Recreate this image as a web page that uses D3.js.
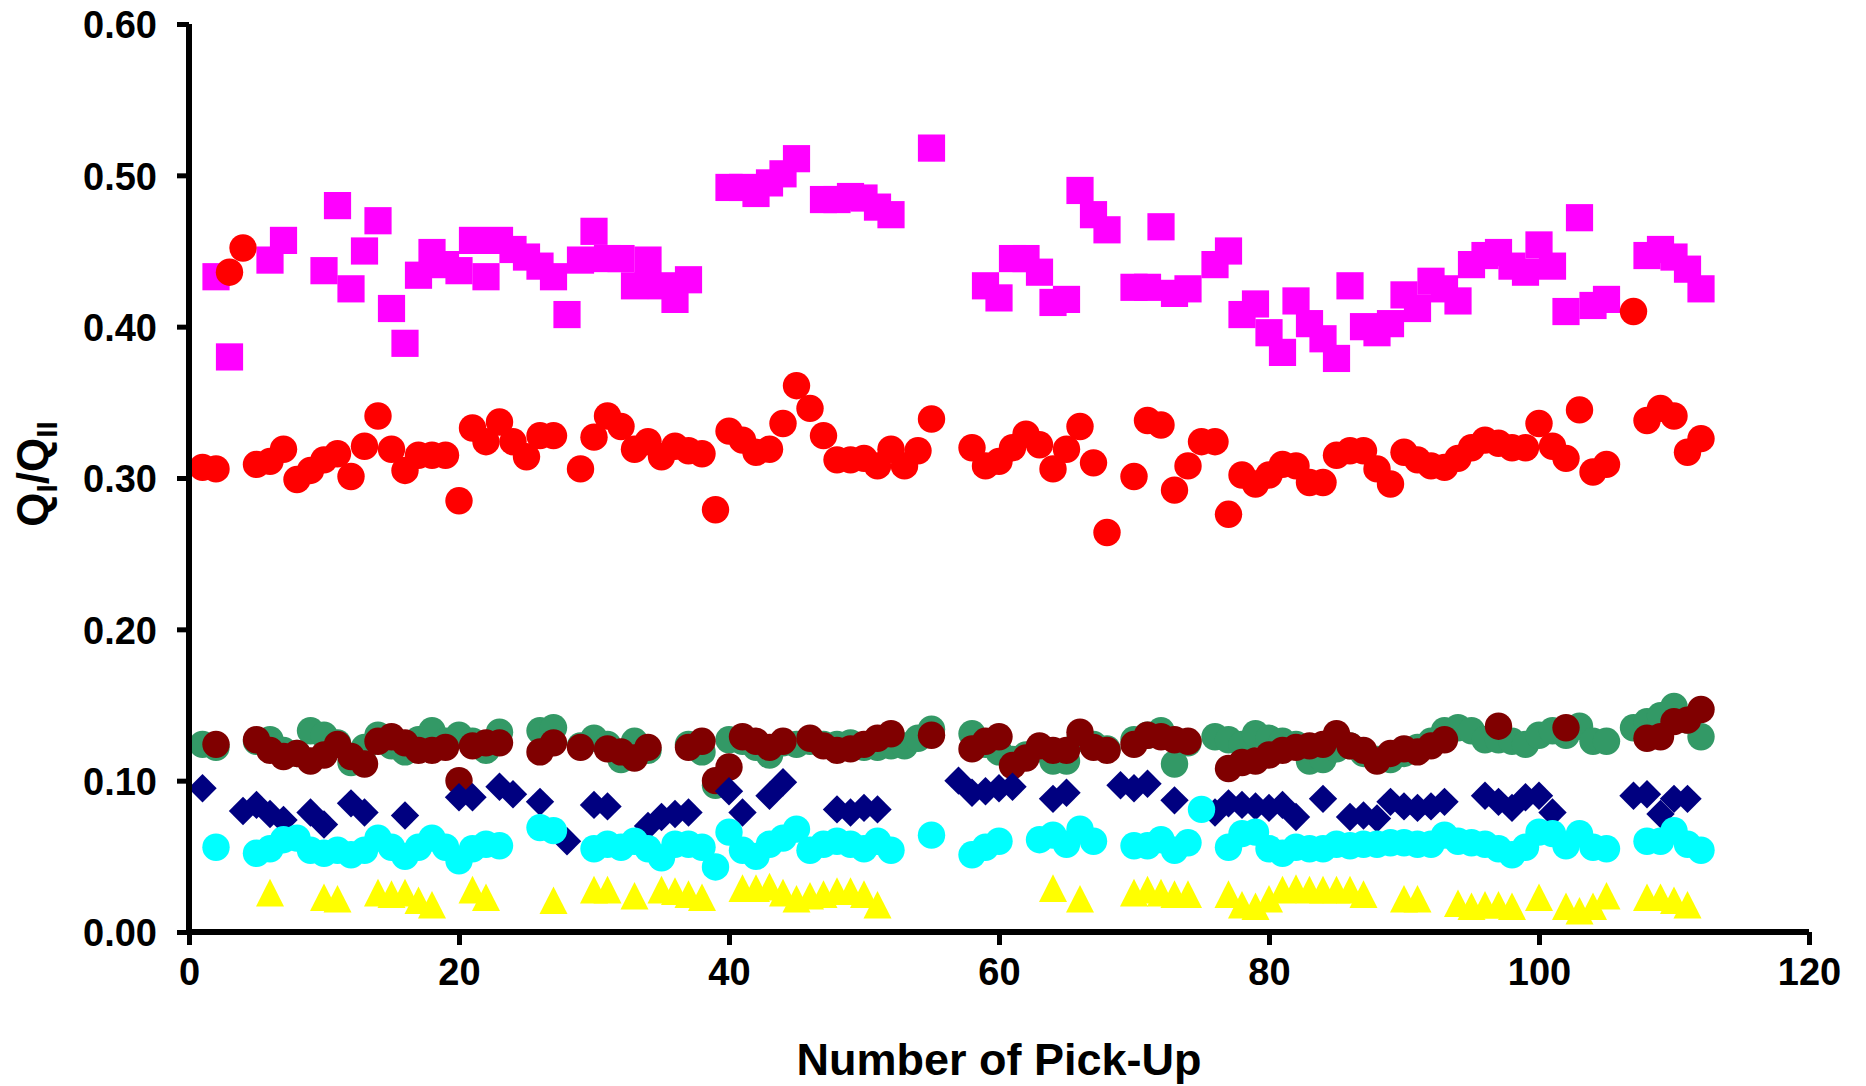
<!DOCTYPE html>
<html><head><meta charset="utf-8">
<script src="https://cdn.jsdelivr.net/npm/d3@7"></script>
<style>html,body{margin:0;padding:0;background:#fff;} svg{display:block;font-family:"Liberation Sans",Arial,sans-serif;}</style>
</head><body>
<svg id="chart" width="1866" height="1086"></svg>
<script>
// Pick-up numbers 1..112
const pickUp = d3.range(1, 113);

const magenta = [
 null,0.433,0.380,null,null,0.444,0.457,null,null,0.437,
 0.480,0.425,0.450,0.470,0.412,0.389,0.434,0.449,0.441,0.437,
 0.457,0.433,0.457,0.451,0.446,0.440,0.433,0.408,0.444,0.463,
 0.445,0.445,0.427,0.444,0.427,0.418,0.431,null,null,0.492,
 0.492,0.488,0.495,0.501,0.511,null,0.484,0.484,0.486,0.485,
 0.479,0.474,null,null,0.518,null,null,null,0.427,0.419,
 0.445,0.445,0.436,0.416,0.418,0.490,0.474,0.464,null,0.426,
 0.426,0.466,0.422,0.425,null,0.441,0.450,0.408,0.415,0.396,
 0.383,0.417,0.402,0.392,0.379,0.427,0.400,0.396,0.402,0.421,
 0.412,0.430,0.425,0.417,0.441,0.447,0.449,0.440,0.436,0.454,
 0.440,0.410,0.472,0.414,0.418,null,null,0.447,0.451,0.446,
 0.438,0.425];

const red = [
 0.307,0.306,0.436,0.452,0.309,0.311,0.319,0.299,0.305,0.312,
 0.316,0.301,0.321,0.341,0.319,0.305,0.315,0.315,0.315,0.285,
 0.333,0.324,0.337,0.324,0.314,0.328,0.328,null,0.306,0.327,
 0.341,0.334,0.319,0.324,0.314,0.321,0.318,0.316,0.279,0.331,
 0.325,0.317,0.319,0.336,0.361,0.346,0.328,0.312,0.312,0.313,
 0.308,0.319,0.308,0.318,0.339,null,null,0.320,0.308,0.311,
 0.320,0.329,0.322,0.306,0.319,0.334,0.310,0.264,null,0.301,
 0.338,0.335,0.292,0.308,0.324,0.324,0.276,0.302,0.296,0.302,
 0.309,0.308,0.297,0.297,0.315,0.318,0.318,0.306,0.296,0.317,
 0.312,0.308,0.307,0.313,0.320,0.325,0.323,0.320,0.320,0.336,
 0.321,0.313,0.345,0.304,0.309,null,0.410,0.338,0.346,0.341,
 0.317,0.326];

const green = [
 0.124,0.122,null,null,0.126,0.127,0.120,0.118,0.133,0.130,
 0.125,0.112,0.122,0.130,0.123,0.119,0.127,0.133,0.126,0.130,
 0.126,0.120,0.132,null,null,0.133,0.135,null,0.123,0.128,
 0.124,0.114,0.126,0.120,null,null,0.124,0.119,0.097,0.127,
 0.126,0.122,0.117,0.125,0.124,0.126,0.124,0.124,0.125,0.122,
 0.122,0.123,0.123,0.128,0.134,null,null,0.131,0.124,0.119,
 0.114,0.117,0.121,0.113,0.113,0.128,0.124,0.121,null,0.127,
 0.130,0.133,0.111,0.125,null,0.129,0.127,0.124,0.131,0.128,
 0.126,0.124,0.113,0.114,0.121,0.123,0.118,0.114,0.114,0.118,
 0.122,0.126,0.133,0.135,0.133,0.127,0.127,0.126,0.124,0.130,
 0.133,0.130,0.136,0.126,0.126,null,0.135,0.139,0.143,0.149,
 0.140,0.129];

const darkRed = [
 null,0.124,null,null,0.127,0.120,0.116,0.118,0.113,0.117,
 0.124,0.116,0.111,0.126,0.129,0.125,0.120,0.120,0.122,0.100,
 0.123,0.125,0.125,null,null,0.119,0.125,null,0.122,null,
 0.121,0.119,0.115,0.122,null,null,0.122,0.126,0.100,0.109,
 0.129,0.126,0.122,0.126,null,0.128,0.123,0.120,0.121,0.124,
 0.128,0.131,null,null,0.130,null,null,0.121,0.126,0.129,
 0.110,0.115,0.123,0.120,0.120,0.132,0.122,0.120,null,0.124,
 0.130,0.129,0.127,0.126,null,null,0.108,0.112,0.113,0.117,
 0.120,0.122,0.123,0.124,0.131,0.123,0.120,0.113,0.118,0.121,
 0.119,0.123,0.127,null,null,null,0.136,null,null,null,
 null,0.135,null,null,null,null,null,0.128,0.129,0.139,
 0.140,0.147];

const navy = [
 0.095,null,null,0.080,0.084,0.078,0.074,null,0.079,0.071,
 null,0.085,0.079,null,null,0.077,null,null,null,0.089,
 0.089,null,0.096,0.091,null,0.086,null,0.060,null,0.084,
 0.083,null,null,0.070,0.076,0.078,0.079,null,null,0.093,
 0.079,null,0.090,0.099,null,null,null,0.081,0.079,0.082,
 0.081,null,null,null,null,null,0.100,0.092,0.093,0.095,
 0.096,null,null,0.088,0.092,null,null,null,0.097,0.095,
 0.098,null,0.087,null,null,0.079,0.085,0.084,0.083,0.082,
 0.084,0.076,null,0.088,null,0.076,0.077,0.075,0.086,0.083,
 0.082,0.083,0.086,null,null,0.090,0.086,0.082,0.089,0.090,
 0.079,null,null,null,null,null,0.090,0.091,0.078,0.088,
 0.088,null];

const cyan = [
 null,0.056,null,null,0.052,0.055,0.061,0.062,0.054,0.052,
 0.054,0.051,0.054,0.062,0.056,0.050,0.056,0.062,0.056,0.047,
 0.055,0.058,0.057,null,null,0.069,0.067,null,null,0.055,
 0.058,0.056,0.060,0.055,0.049,0.058,0.058,0.056,0.043,0.066,
 0.054,0.050,0.058,0.062,0.068,0.054,0.058,0.060,0.058,0.055,
 0.060,0.054,null,null,0.064,null,null,0.051,0.056,0.060,
 null,null,0.061,0.064,0.058,0.068,0.060,null,null,0.057,
 0.057,0.061,0.054,0.059,0.081,null,0.056,0.065,0.066,0.055,
 0.052,0.056,0.055,0.055,0.058,0.057,0.058,0.058,0.059,0.059,
 0.058,0.058,0.064,0.060,0.059,0.058,0.055,0.051,0.056,0.066,
 0.065,0.057,0.065,0.056,0.055,null,null,0.060,0.060,0.067,
 0.058,0.054];

const yellow = [
 null,null,null,null,null,0.026,null,null,null,0.023,
 0.022,null,null,0.026,0.025,0.026,0.021,0.018,null,null,
 0.028,0.023,null,null,null,null,0.021,null,null,0.028,
 0.028,null,0.024,null,0.028,0.027,0.025,0.023,null,null,
 0.029,0.029,0.030,0.026,0.022,0.024,0.025,0.027,0.027,0.025,
 0.018,null,null,null,null,null,null,null,null,null,
 null,null,null,0.029,null,0.022,null,null,null,0.026,
 0.028,0.026,0.025,0.025,null,null,0.025,0.018,0.017,0.022,
 0.028,0.029,0.028,0.028,0.028,0.028,0.025,null,null,0.022,
 0.022,null,null,0.019,0.017,0.018,0.018,0.017,null,0.023,
 null,0.017,0.014,0.017,0.024,null,null,0.023,0.023,0.021,
 0.018,null];

const xTicks = [0, 20, 40, 60, 80, 100, 120];
const yTicks = [0, 0.1, 0.2, 0.3, 0.4, 0.5, 0.6];

const series = [
  {values: magenta, color: "#FF00FF", shape: "square"},
  {values: red,     color: "#FF0000", shape: "circle"},
  {values: green,   color: "#339966", shape: "circle"},
  {values: darkRed, color: "#800000", shape: "circle"},
  {values: navy,    color: "#000080", shape: "diamond"},
  {values: cyan,    color: "#00FFFF", shape: "circle"},
  {values: yellow,  color: "#FFFF00", shape: "triangle"}
];

const svg = d3.select("#chart");
const x = d3.scaleLinear().domain([0, 120]).range([189, 1809]);
const y = d3.scaleLinear().domain([0, 0.6]).range([932, 24]);

const shapes = {
  square:   "M-13.6,-13.6H13.6V13.6H-13.6Z",
  circle:   d3.symbol(d3.symbolCircle, Math.PI * 13.7 * 13.7)(),
  diamond:  "M0,-14.2L14.2,0L0,14.2L-14.2,0Z",
  triangle: "M0,-13.8L14,13.8L-14,13.8Z"
};

series.forEach(s => {
  const pts = pickUp.map((p, i) => ({p, v: s.values[i]})).filter(d => d.v != null);
  svg.append("g").selectAll("path").data(pts).join("path")
    .attr("d", shapes[s.shape])
    .attr("transform", d => `translate(${x(d.p)},${y(d.v)})`)
    .attr("fill", s.color);
});

// Axes
const yAxis = d3.axisLeft(y).tickValues(yTicks).tickFormat(d3.format(".2f"))
  .tickSize(12).tickSizeOuter(0).tickPadding(20);
const gy = svg.append("g").attr("transform", `translate(${x(0)},0)`).call(yAxis);
const xAxis = d3.axisBottom(x).tickValues(xTicks).tickFormat(d3.format("d"))
  .tickSize(13).tickSizeOuter(0).tickPadding(12);
const gx = svg.append("g").attr("transform", `translate(0,${y(0)})`).call(xAxis);

[gy, gx].forEach(g => {
  g.select(".domain").attr("stroke", "#000").attr("stroke-width", 6);
  g.selectAll(".tick line").attr("stroke", "#000").attr("stroke-width", 5);
  g.selectAll(".tick text").attr("fill", "#000")
    .style("font-family", '"Liberation Sans", Arial, sans-serif')
    .style("font-weight", "bold").style("font-size", "38px");
});
gy.selectAll(".tick text").attr("dy", "0.36em");
gx.selectAll(".tick text").attr("dy", "0.74em");
// extend domains to cover the corner
gy.select(".domain").attr("d", `M0,${y(0.6)}V${y(0) + 3}`);
gx.select(".domain").attr("d", `M${x(0) - 3},0H${x(120)}`);

// Axis titles
svg.append("text")
  .attr("x", (x(0) + x(120)) / 2).attr("y", 1075)
  .attr("text-anchor", "middle")
  .style("font-weight", "bold").style("font-size", "45px")
  .text("Number of Pick-Up");

const yt = svg.append("text")
  .attr("transform", "translate(48,474) rotate(-90)")
  .attr("text-anchor", "middle")
  .style("font-weight", "bold").style("font-size", "44px");
yt.append("tspan").text("Q");
yt.append("tspan").attr("dy", 9).style("font-size", "30px").text("I");
yt.append("tspan").attr("dy", -9).text("/Q");
yt.append("tspan").attr("dy", 9).style("font-size", "30px").text("II");
</script>
</body></html>
